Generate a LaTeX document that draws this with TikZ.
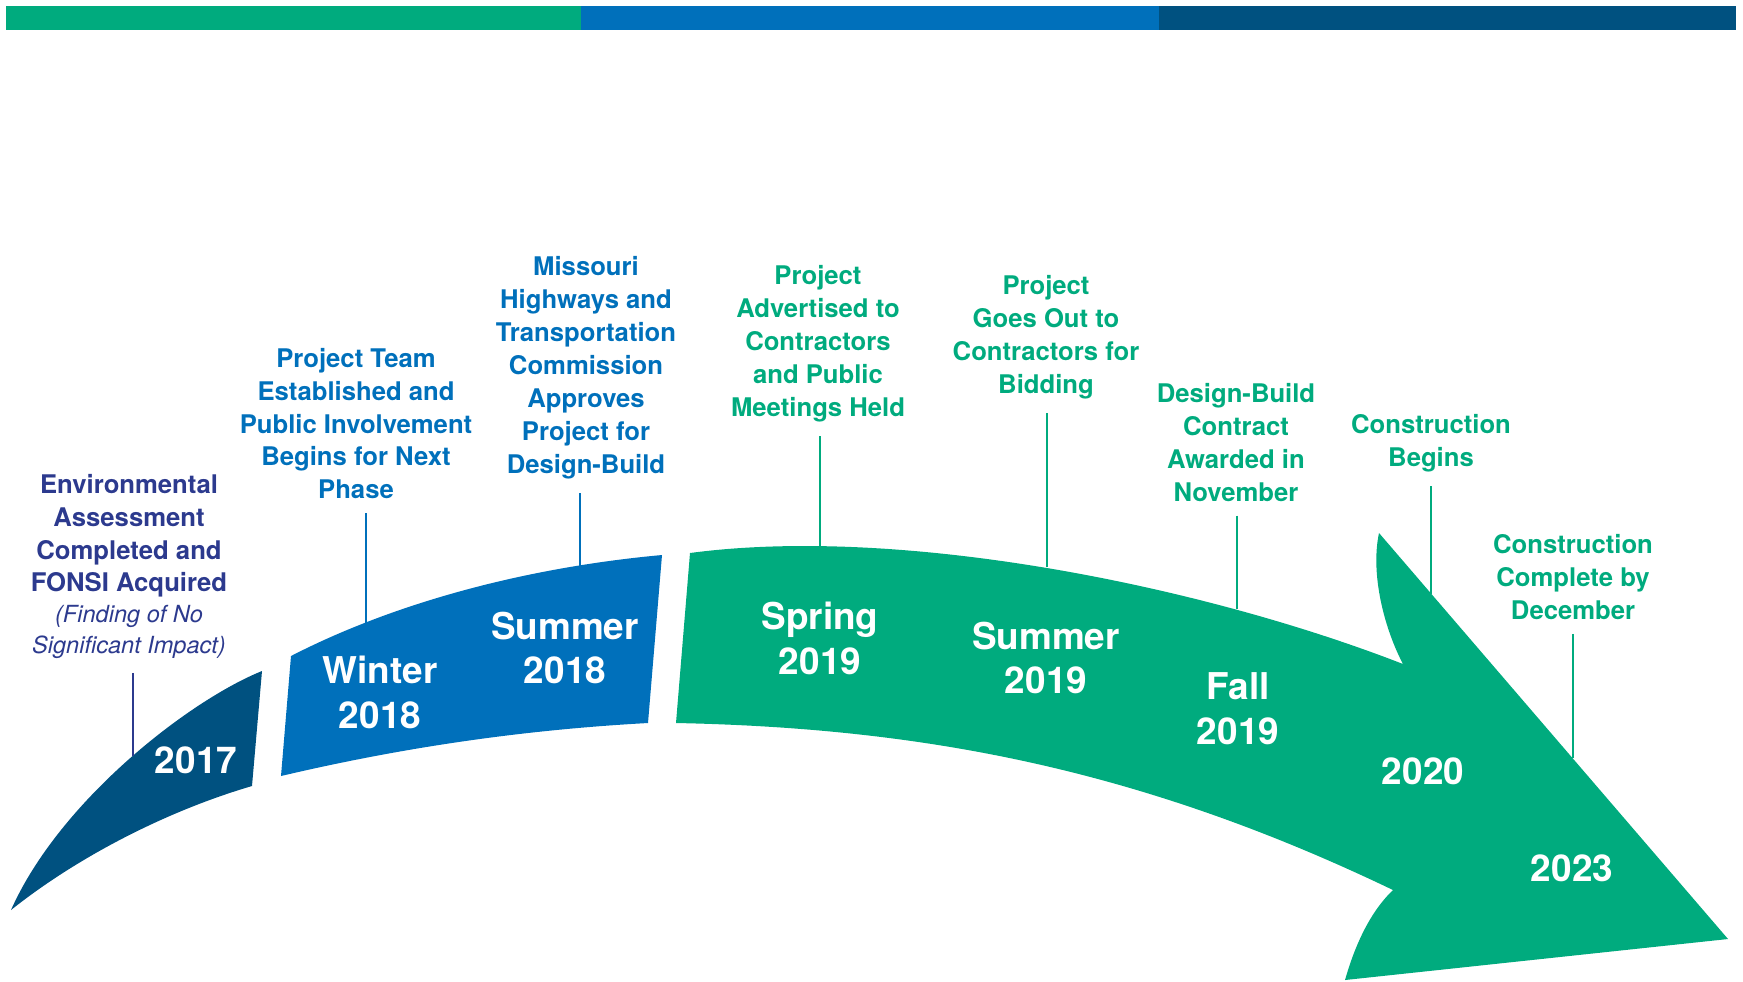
\documentclass[tikz,border=0pt]{standalone}
\usepackage{fontspec}
\setmainfont{TeX Gyre Heros}

\definecolor{mgreen}{RGB}{0,171,126}
\definecolor{mblue}{RGB}{0,112,187}
\definecolor{mnavy}{RGB}{0,81,128}
\definecolor{lnavy}{RGB}{44,58,142}

\begin{document}
\begin{tikzpicture}[x=0.01cm,y=-0.01cm,
    note/.style={anchor=north,align=center,inner sep=0pt,outer ysep=4pt,
      font=\bfseries\fontsize{7.3}{9.36}\selectfont},
    year/.style={align=center,text=white,inner sep=0pt,
      font=\bfseries\fontsize{10.5}{12.76}\selectfont},
    stem/.style={line width=0.6pt}]
    \useasboundingbox (0,0) rectangle (1743,981);

    % top bar
    \fill[mgreen] (5.5,5.5) rectangle (581,30);
    \fill[mblue] (581,5.5) rectangle (1159,30);
    \fill[mnavy] (1159,5.5) rectangle (1736,30);

    % the bands
    \fill[mnavy] (11,910) .. controls (60,800) and (190,700) .. (262,671)
      -- (252,786) .. controls (170,810) and (80,855) .. (11,910) -- cycle;
    \fill[mblue] (291,656) .. controls (390,605) and (520,568) .. (662,555)
      -- (648,723) .. controls (520,730) and (400,748) .. (281,776) -- cycle;
    \fill[mgreen] (690,553) .. controls (900,525) and (1200,585) .. (1403,664)
      .. controls (1385,630) and (1370,575) .. (1379,533)
      -- (1728,939) -- (1345,980)
      .. controls (1355,945) and (1370,912) .. (1393,890)
      .. controls (1143,770) and (926,728) .. (676,723) -- cycle;

    % years
    \node[year] (y17) at (196,760) {2017};
    \node[year] (w18) at (380,692) {Winter\\2018};
    \node[year] (s18) at (565,648) {Summer\\2018};
    \node[year] (sp19) at (820,638) {Spring\\2019};
    \node[year] (su19) at (1046,658) {Summer\\2019};
    \node[year] (f19) at (1238,709) {Fall\\2019};
    \node[year] (y20) at (1423,771) {2020};
    \node[year] (y23) at (1572,868) {2023};

    % notes
    \node[note,text=lnavy] (env) at (129,460) {Environmental\\Assessment\\Completed and\\FONSI Acquired\\[-0.6pt]
      {\mdseries\itshape\fontsize{6.7}{8.8}\selectfont (Finding of No}\\[-0.6pt]
      {\mdseries\itshape\fontsize{6.7}{8.8}\selectfont Significant Impact)}};
    \node[note,text=mblue] (team) at (356,334) {Project Team\\Established and\\Public Involvement\\Begins for Next\\Phase};
    \node[note,text=mblue] (mhtc) at (586,242.7) {Missouri\\Highways and\\Transportation\\Commission\\Approves\\Project for\\Design-Build};
    \node[note,text=mgreen] (adv) at (818,251.6) {Project\\Advertised to\\Contractors\\and Public\\Meetings Held};
    \node[note,text=mgreen] (bid) at (1046,261.6) {Project\\Goes Out to\\Contractors for\\Bidding};
    \node[note,text=mgreen] (award) at (1236,369.4) {Design-Build\\Contract\\Awarded in\\November};
    \node[note,text=mgreen] (cbeg) at (1431,400.5) {Construction\\Begins};
    \node[note,text=mgreen] (cend) at (1573,520.6) {Construction\\Complete by\\December};

    % stems
    \coordinate (e1) at (133,756);
    \coordinate (e2) at (366,624);
    \coordinate (e3) at (580,566);
    \coordinate (e4) at (820,549);
    \coordinate (e5) at (1047,567);
    \coordinate (e6) at (1237,609);
    \coordinate (e7) at (1431,594);
    \coordinate (e8) at (1573,758);
    \draw[stem,lnavy] (env.south -| e1) -- (e1);
    \draw[stem,mblue] (team.south -| e2) -- (e2);
    \draw[stem,mblue] (mhtc.south -| e3) -- (e3);
    \draw[stem,mgreen] (adv.south -| e4) -- (e4);
    \draw[stem,mgreen] (bid.south -| e5) -- (e5);
    \draw[stem,mgreen] (award.south -| e6) -- (e6);
    \draw[stem,mgreen] (cbeg.south -| e7) -- (e7);
    \draw[stem,mgreen] (cend.south -| e8) -- (e8);
  \end{tikzpicture}
\end{document}
